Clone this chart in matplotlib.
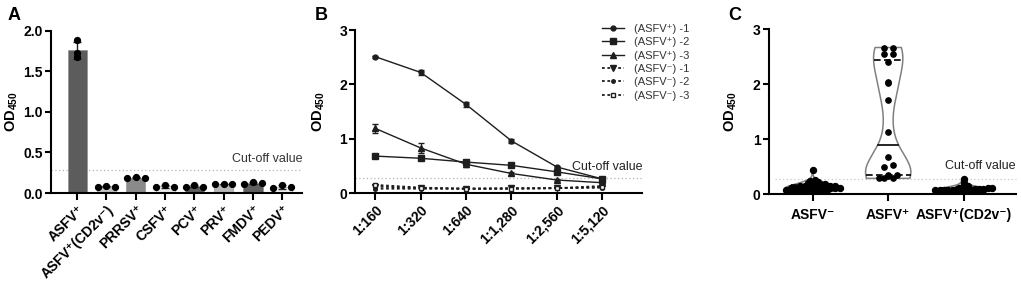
import numpy as np
import matplotlib.pyplot as plt

plt.rcParams['font.family'] = ['Liberation Sans', 'DejaVu Sans']
plt.rcParams['mathtext.fontset'] = 'custom'
plt.rcParams['mathtext.rm'] = 'Liberation Sans'
plt.rcParams['mathtext.bf'] = 'Liberation Sans:bold'
plt.rcParams['mathtext.it'] = 'Liberation Sans:italic'

# ---- panel A data: specificity
virusLabels = ['ASFV⁺', 'ASFV⁺(CD2v⁻)', 'PRRSV⁺', 'CSFV⁺', 'PCV⁺', 'PRV⁺', 'FMDV⁺', 'PEDV⁺']
virusReps = [
    [1.68, 1.88, 1.72],
    [0.08, 0.09, 0.08],
    [0.18, 0.20, 0.19],
    [0.07, 0.10, 0.08],
    [0.08, 0.10, 0.08],
    [0.11, 0.11, 0.11],
    [0.11, 0.13, 0.12],
    [0.06, 0.10, 0.07],
]
barColors = ['#5c5c5c', '#c4c4c4', '#8a8a8a', '#ececec', '#5e5e5e', '#b8b8b8', '#606060', '#f2f2f2']

# ---- panel B data: dilution curves
titers = ['1:160', '1:320', '1:640', '1:1,280', '1:2,560', '1:5,120']
seriesNames = ['(ASFV⁺) -1', '(ASFV⁺) -2', '(ASFV⁺) -3', '(ASFV⁻) -1', '(ASFV⁻) -2', '(ASFV⁻) -3']
pos1 = [2.51, 2.22, 1.63, 0.96, 0.48, 0.26]
pos2 = [0.68, 0.64, 0.57, 0.51, 0.39, 0.26]
pos3 = [1.19, 0.83, 0.53, 0.36, 0.24, 0.19]
neg1 = [0.12, 0.09, 0.08, 0.09, 0.09, 0.13]
neg2 = [0.08, 0.08, 0.08, 0.08, 0.09, 0.10]
neg3 = [0.15, 0.10, 0.08, 0.08, 0.09, 0.11]
pos1Err = [0.02, 0.04, 0.04, 0.04, 0.02, 0.02]
pos2Err = [0.03, 0.04, 0.03, 0.02, 0.02, 0.02]
pos3Err = [0.08, 0.10, 0.05, 0.02, 0.01, 0.01]
negErr = [0.02, 0.01, 0.01, 0.01, 0.01, 0.02]

# ---- panel C data: clinical samples
groupLabels = ['ASFV⁻', 'ASFV⁺', 'ASFV⁺(CD2v⁻)']
asfvNeg = [0.03, 0.04, 0.05, 0.05, 0.06, 0.06, 0.07, 0.07, 0.08, 0.08, 0.08, 0.09, 0.09, 0.09,
           0.10, 0.10, 0.10, 0.11, 0.11, 0.11, 0.12, 0.12, 0.12, 0.13, 0.13, 0.13, 0.14, 0.14,
           0.15, 0.15, 0.16, 0.16, 0.17, 0.17, 0.18, 0.19, 0.20, 0.21, 0.22, 0.24, 0.26, 0.44]
asfvPos = [0.29, 0.29, 0.30, 0.33, 0.35, 0.36, 0.49, 0.53, 0.67, 1.14, 1.72, 2.02, 2.04,
           2.41, 2.55, 2.55, 2.67, 2.67]
asfvCd2v = [0.04, 0.05, 0.05, 0.06, 0.06, 0.06, 0.07, 0.07, 0.07, 0.07, 0.08, 0.08, 0.08,
            0.08, 0.08, 0.09, 0.09, 0.09, 0.09, 0.10, 0.10, 0.10, 0.11, 0.11, 0.12, 0.13,
            0.15, 0.18, 0.21, 0.27]

cutoff = 0.28
odLabel = r'$\mathbf{OD_{450}}$'
lineColor = '#1e1e1e'


def styleAxis(ax):
    for s in ['top', 'right']:
        ax.spines[s].set_visible(False)
    for s in ['left', 'bottom']:
        ax.spines[s].set_linewidth(1.5)
    ax.tick_params(axis='both', width=1.5, length=4, labelsize=10, pad=2)
    ax.tick_params(axis='x', length=5)
    for lab in ax.get_xticklabels() + ax.get_yticklabels():
        lab.set_fontweight('bold')


def rowSwarm(values, binH, stepX):
    # put points of similar value in one row, spread them symmetrically
    values = np.asarray(values)
    offsets = np.zeros(len(values))
    bins = np.floor(values / binH + 1e-9).astype(int)
    for b in np.unique(bins):
        idx = np.where(bins == b)[0]
        n = len(idx)
        offsets[idx] = (np.arange(n) - (n - 1) / 2) * stepX
    return offsets


def kdeHalfWidth(values, yGrid, bw):
    values = np.asarray(values)
    d = np.exp(-0.5 * ((yGrid[:, None] - values[None, :]) / bw) ** 2).sum(axis=1)
    return d / d.max()


fig = plt.figure(figsize=(10.21, 2.81), dpi=100)

# ================= A
axA = fig.add_axes([0.050, 0.313, 0.246, 0.578])
xA = np.arange(len(virusLabels))
means = [np.mean(r) for r in virusReps]
sds = [np.std(r, ddof=1) for r in virusReps]
axA.bar(xA, means, width=0.65, color=barColors, edgecolor='#8c8c8c', linewidth=0.4, zorder=2)
axA.errorbar(xA, means, yerr=sds, fmt='none', ecolor='#222222', elinewidth=1, capsize=3, zorder=3)
for i, reps in enumerate(virusReps):
    if np.ptp(reps) > 0.1:
        offs = np.zeros(len(reps))
    else:
        offs = (np.arange(len(reps)) - 1) * 0.3
    axA.plot(xA[i] + offs, reps, 'o', color='black', ms=4.2, zorder=4)
axA.plot([-0.89, 7.68], [cutoff, cutoff], color='#b5b5b5', lw=0.9, ls=(0, (1, 2)), zorder=1, clip_on=False)
axA.text(7.68, cutoff + 0.07, 'Cut-off value', ha='right', va='bottom', fontsize=9, color='#333333')
axA.set_xlim(-0.89, 7.68)
axA.set_ylim(0, 2.0)
axA.set_yticks([0, 0.5, 1.0, 1.5, 2.0])
axA.set_yticklabels(['0.0', '0.5', '1.0', '1.5', '2.0'])
axA.set_xticks(xA)
axA.set_xticklabels(virusLabels, rotation=45, ha='right', rotation_mode='anchor')
styleAxis(axA)
axA.set_ylabel(odLabel, fontsize=10.5)
axA.yaxis.set_label_coords(-0.125, 0.5)

# ================= B
axB = fig.add_axes([0.348, 0.313, 0.281, 0.580])
xB = np.arange(len(titers))
handles = []
posStyles = [('o', 3.5), ('s', 4), ('^', 4.5)]
for vals, err, (mk, ms) in zip([pos1, pos2, pos3], [pos1Err, pos2Err, pos3Err], posStyles):
    c = axB.errorbar(xB, vals, yerr=err, fmt='-' + mk, color=lineColor, ms=ms, lw=1, elinewidth=0.9,
                     capsize=2, zorder=3)
    handles.append(c.lines[0])
negStyles = [('v', 4, lineColor), ('.', 5, lineColor), ('s', 3.5, 'white')]
for vals, (mk, ms, fc) in zip([neg1, neg2, neg3], negStyles):
    c = axB.errorbar(xB, vals, yerr=negErr, fmt=mk, ls=(0, (1.5, 1.5)), color=lineColor, mfc=fc, ms=ms,
                     lw=1.3, elinewidth=0.8, capsize=1.5, zorder=3)
    handles.append(c.lines[0])
axB.plot([-0.44, 5.88], [cutoff - 0.01, cutoff - 0.01], color='#b5b5b5', lw=0.9, ls=(0, (1, 2)), zorder=1, clip_on=False)
axB.text(5.88, cutoff + 0.08, 'Cut-off value', ha='right', va='bottom', fontsize=9, color='#222222')
axB.set_xlim(-0.44, 5.88)
axB.set_ylim(0, 3)
axB.set_yticks([0, 1, 2, 3])
axB.set_xticks(xB)
axB.set_xticklabels(titers, rotation=45, ha='right', rotation_mode='anchor')
styleAxis(axB)
axB.set_ylabel(odLabel, fontsize=10.5)
axB.yaxis.set_label_coords(-0.10, 0.5)
leg = fig.legend(handles, seriesNames, loc='upper left', bbox_to_anchor=(0.590, 0.915),
                 frameon=False, fontsize=8, handlelength=1.9, handletextpad=0.9, labelspacing=0.3,
                 borderpad=0, borderaxespad=0)
for t in leg.get_texts():
    t.set_color('#333333')

# ================= C
axC = fig.add_axes([0.753, 0.3085, 0.242, 0.587])
xC = np.arange(len(groupLabels))
groups = [asfvNeg, asfvPos, asfvCd2v]
halfWidths = [0.36, 0.30, 0.36]
bws = [0.05, 0.33, 0.04]
for i, (vals, hw, bw) in enumerate(zip(groups, halfWidths, bws)):
    yGrid = np.linspace(min(vals), max(vals), 200)
    w = kdeHalfWidth(vals, yGrid, bw) * hw
    outlineX = np.concatenate([xC[i] - w, (xC[i] + w)[::-1], [xC[i] - w[0]]])
    outlineY = np.concatenate([yGrid, yGrid[::-1], [yGrid[0]]])
    axC.fill(outlineX, outlineY, color='white', zorder=2)
    axC.plot(outlineX, outlineY, color='#808080', lw=1.1, zorder=2)
    q1, med, q3 = np.percentile(vals, [25, 50, 75], method='weibull')
    for q, ls in [(q1, (0, (4, 2))), (med, '-'), (q3, (0, (4, 2)))]:
        wq = np.interp(q, yGrid, w)
        axC.plot([xC[i] - wq, xC[i] + wq], [q, q], color='black', lw=1.2, ls=ls, zorder=3)

swarmSteps = [0.065, 0.12, 0.058]
swarmBins = [0.04, 0.06, 0.04]
swarmSizes = [4.3, 3.8, 4.3]
for i, vals in enumerate(groups):
    offs = rowSwarm(vals, swarmBins[i], swarmSteps[i])
    axC.plot(xC[i] + offs, vals, 'o', color='black', ms=swarmSizes[i], zorder=4)

axC.plot([-0.5, 2.69], [cutoff, cutoff], color='#c8c8c8', lw=0.9, ls=(0, (1, 2)), zorder=1, clip_on=False)
axC.text(2.69, cutoff + 0.12, 'Cut-off value', ha='right', va='bottom', fontsize=9, color='#222222')
axC.set_xlim(-0.58, 2.69)
axC.set_ylim(0, 3)
axC.set_yticks([0, 1, 2, 3])
axC.set_xticks(xC)
axC.set_xticklabels(groupLabels)
styleAxis(axC)
axC.tick_params(axis='x', pad=5)
axC.set_ylabel(odLabel, fontsize=10.5)
axC.yaxis.set_label_coords(-0.12, 0.5)

# panel letters
fig.text(0.007, 0.975, 'A', fontsize=13, fontweight='bold', va='top')
fig.text(0.308, 0.975, 'B', fontsize=13, fontweight='bold', va='top')
fig.text(0.713, 0.975, 'C', fontsize=13, fontweight='bold', va='top')

fig.savefig('out.png', dpi=100)
